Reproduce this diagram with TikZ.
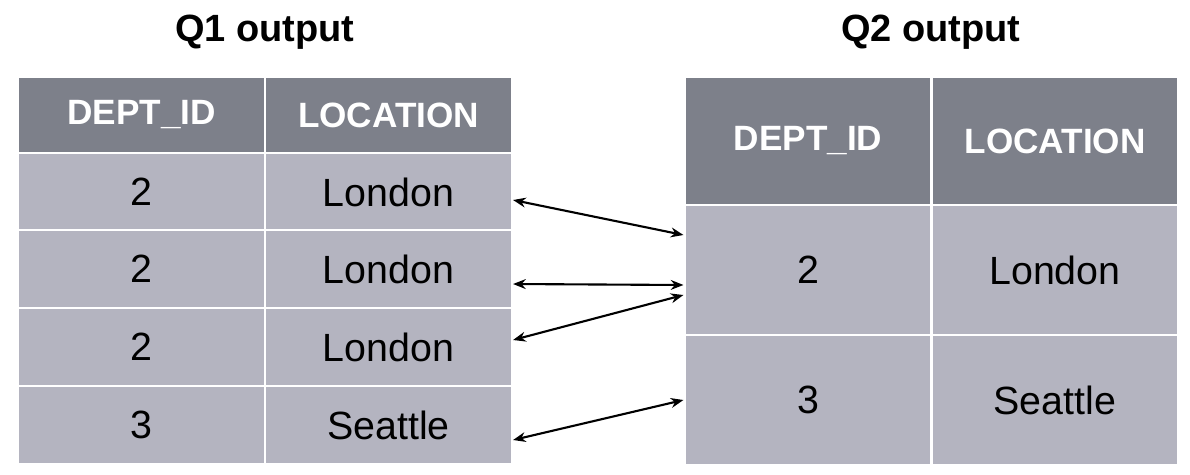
\documentclass[tikz,border=0pt]{standalone}
\usepackage{fontspec}
\setmainfont{Liberation Sans}
\usetikzlibrary{arrows.meta, positioning}
\definecolor{headgray}{HTML}{7D808A}
\definecolor{cellgray}{HTML}{B4B4C0}

\begin{document}
\begin{tikzpicture}[x=0.025cm, y=-0.025cm,
  head/.style={fill=headgray, draw=white, line width=1.5pt, text=white, font=\fontsize{25}{28}\selectfont\bfseries,
               minimum width=247*0.025cm, inner sep=0pt},
  cell/.style={fill=cellgray, draw=white, line width=1.5pt, font=\fontsize{28}{32}\selectfont,
               minimum width=247*0.025cm, inner sep=0pt},
  title/.style={font=\fontsize{27}{30}\selectfont\bfseries},
  link/.style={{Stealth[length=9pt,width=7pt]}-{Stealth[length=9pt,width=7pt]}, line width=1.5pt},
]
  \useasboundingbox (0,0) rectangle (1190,474);

  % Q1 output
  \node[title] (t1) at (265,32) {Q1 output};
  \node[head, minimum height=77*0.025cm] (h1a) at (141.5,115) {DEPT\_ID};
  \node[head, minimum height=77*0.025cm] (h1b) at (388.5,115) {LOCATION};
  \foreach \i/\d/\l/\y in {1/2/London/192, 2/2/London/269, 3/2/London/347, 4/3/Seattle/425} {
    \node[cell, minimum height=78*0.025cm] (a\i) at (141.5,\y) {\d};
    \node[cell, minimum height=78*0.025cm] (b\i) at (388.5,\y) {\l};
  }

  % Q2 output
  \node[title] (t2) at (931,32) {Q2 output};
  \node[head, minimum height=128*0.025cm] (h2a) at (808,141) {DEPT\_ID};
  \node[head, minimum height=128*0.025cm] (h2b) at (1055,141) {LOCATION};
  \node[cell, minimum height=130*0.025cm] (c1) at (808,270) {2};
  \node[cell, minimum height=130*0.025cm] (d1) at (1055,270) {London};
  \node[cell, minimum height=130*0.025cm] (c2) at (808,400) {3};
  \node[cell, minimum height=130*0.025cm] (d2) at (1055,400) {Seattle};

  \draw[link] ([yshift=-8*0.025cm]b1.east) -- ([yshift=35*0.025cm]c1.west);
  \draw[link] ([yshift=-15*0.025cm]b2.east) -- ([yshift=-15*0.025cm]c1.west);
  \draw[link] ([yshift=7*0.025cm]b3.east) -- ([yshift=-25*0.025cm]c1.west);
  \draw[link] ([yshift=-15*0.025cm]b4.east) -- (c2.west);
\end{tikzpicture}
\end{document}
